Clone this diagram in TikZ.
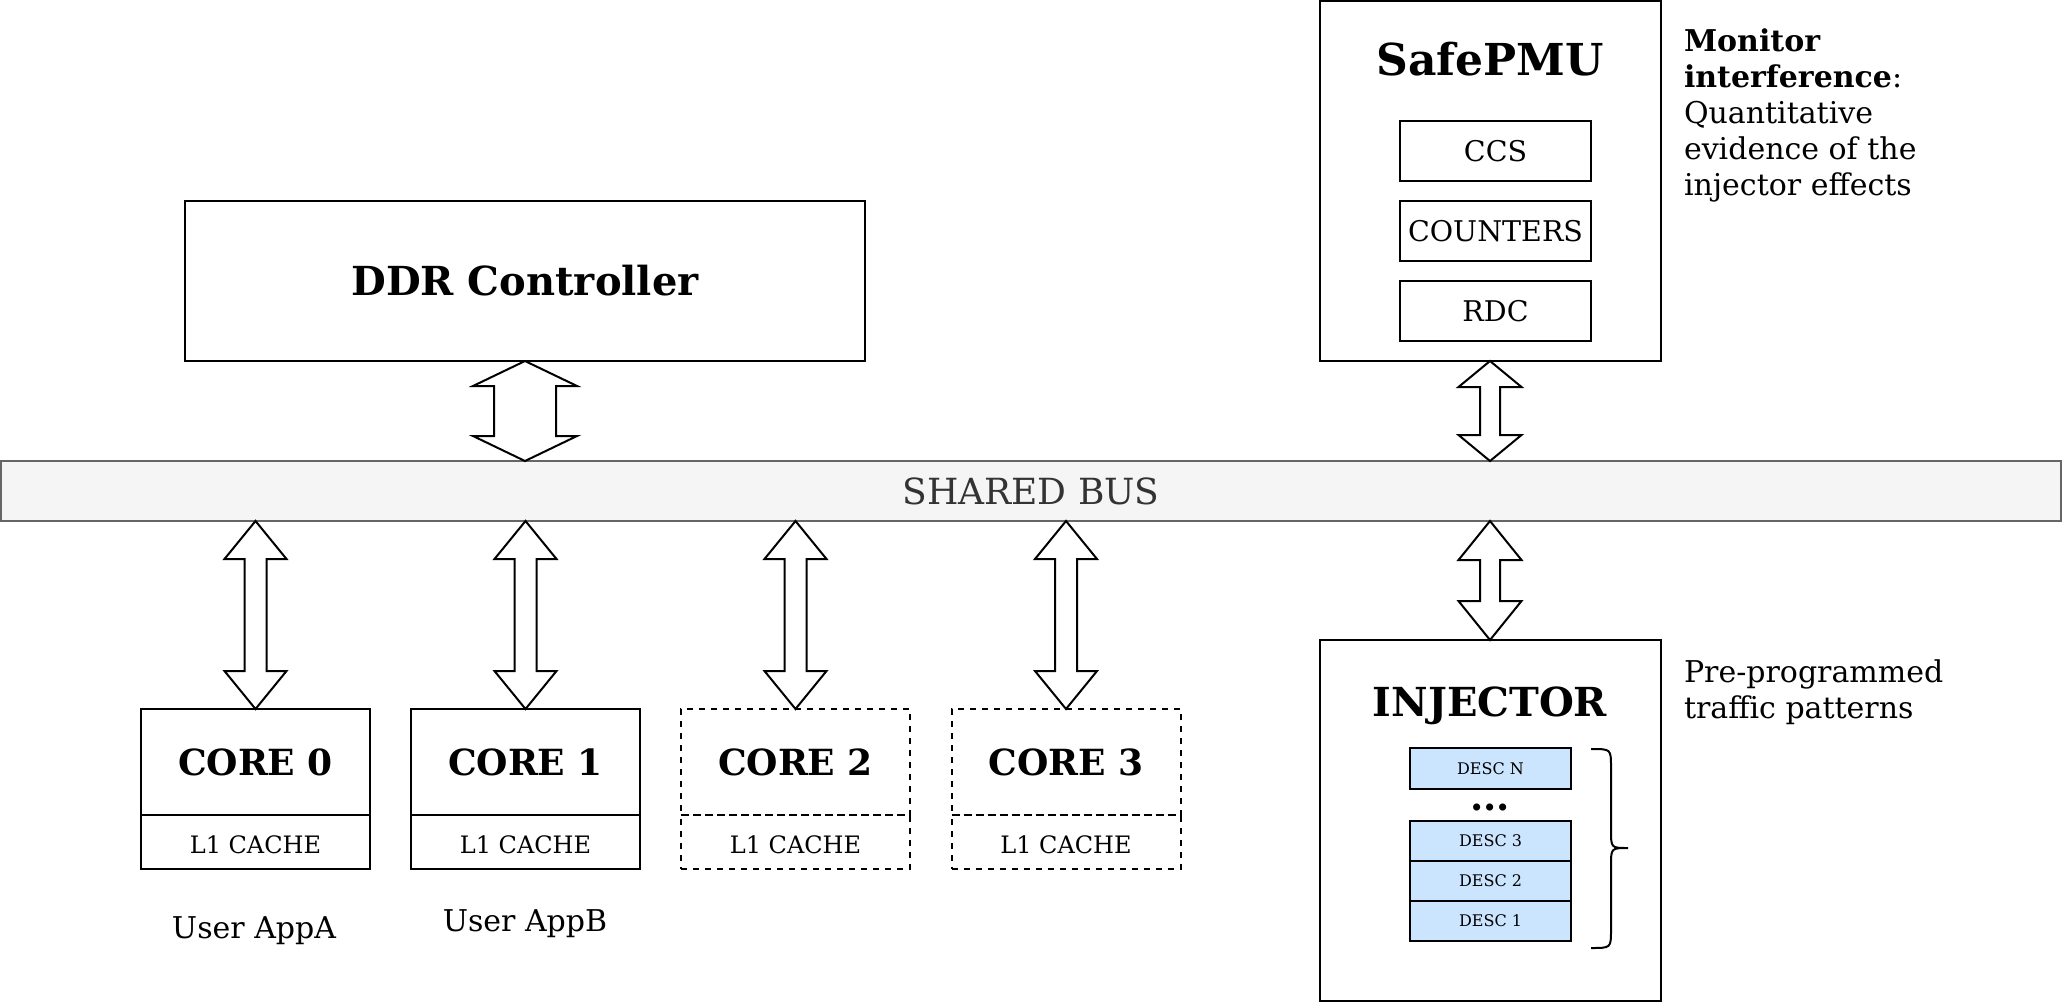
\documentclass[tikz,border=0pt]{standalone}
\usepackage{fontspec}
\setmainfont{DejaVu Serif}
\usetikzlibrary{calc}
\definecolor{busfill}{HTML}{F5F5F5}
\definecolor{busline}{HTML}{666666}
\definecolor{bustext}{HTML}{333333}
\definecolor{descfill}{HTML}{CCE5FF}
\newcommand\blockarrow[5]{%
  \draw[blockar] (#1) -- ($(#1)+(-#3,#5)$) -- ($(#1)+(-#4,#5)$) -- ($(#2)+(-#4,-#5)$) -- ($(#2)+(-#3,-#5)$) -- (#2) -- ($(#2)+(#3,-#5)$) -- ($(#2)+(#4,-#5)$) -- ($(#1)+(#4,#5)$) -- ($(#1)+(#3,#5)$) -- cycle;}
\begin{document}
\begin{tikzpicture}[x=0.5pt,y=-0.5pt,
  box/.style={draw, line width=1pt, inner sep=0pt, outer sep=0pt, align=center},
  dbox/.style={box, dash pattern=on 3pt off 3pt},
  blockar/.style={draw, fill=white, line width=1pt, line join=miter},
  bigbold/.style={font=\fontsize{20}{24}\selectfont\bfseries},
  titlebold/.style={font=\fontsize{20}{24}\selectfont\bfseries},
  coretxt/.style={font=\fontsize{18}{22}\selectfont\bfseries},
  cachetxt/.style={font=\fontsize{12}{14}\selectfont, text height=11pt, text depth=0pt},
  subtxt/.style={font=\fontsize{14.25}{17}\selectfont},
  desctxt/.style={font=\fontsize{8}{10}\selectfont},
  note/.style={font=\fontsize{15}{18}\selectfont, align=left, inner sep=0pt, outer sep=0pt},
  corebox/.style={box, minimum width=114.5pt, minimum height=53pt},
  cachebox/.style={box, minimum width=114.5pt, minimum height=27pt},
  subbox/.style={box, minimum width=95.5pt, minimum height=30pt},
  descbox/.style={box, fill=descfill, minimum width=80.5pt, minimum height=20pt}
]
\useasboundingbox (0,0) rectangle (2062,1002);

% DDR controller
\node[box, minimum width=340pt, minimum height=80pt, bigbold] (ddr) at (525,281) {DDR Controller};

% shared bus
\node[box, draw=busline, fill=busfill, text=bustext, minimum width=1030pt, minimum height=30pt,
      font=\fontsize{18}{22}\selectfont] (bus) at (1031,491) {SHARED BUS};

% SafePMU
\node[box, minimum width=170.5pt, minimum height=180pt] (pmu) at (1490.5,181) {};
\node[font=\fontsize{22}{26}\selectfont\bfseries] (pmut) at (1490,59) {SafePMU};
\node[subbox, subtxt] (ccs) at (1495.5,151) {CCS};
\node[subbox, subtxt] (cnt) at (1495.5,231) {COUNTERS};
\node[subbox, subtxt] (rdc) at (1495.5,311) {RDC};

% Injector
\node[box, minimum width=170.5pt, minimum height=180.5pt] (inj) at (1490.5,820.5) {};
\node[titlebold] (injt) at (1490,706) {INJECTOR};
\node[descbox, minimum height=20.5pt, desctxt] (descN) at (1490.5,768.5) {DESC N};
\node[font=\fontsize{19}{22}\selectfont\bfseries] (dots) at (1490,807) {...};
\node[descbox, desctxt] (desc3) at (1490.5,841) {DESC 3};
\node[descbox, desctxt] (desc2) at (1490.5,881) {DESC 2};
\node[descbox, desctxt] (desc1) at (1490.5,921) {DESC 1};
\draw[line width=1pt] (1591,749) .. controls (1611,749) .. (1611,767) -- (1611,830)
  .. controls (1611,848) .. (1628,848) .. controls (1611,848) .. (1611,866) -- (1611,930)
  .. controls (1611,948) .. (1591,948);

% cores
\node[corebox, coretxt] (core0) at (255.5,762) {CORE 0};
\node[cachebox, cachetxt] (c0) at (255.5,842) {L1 CACHE};
\node[corebox, coretxt] (core1) at (525.5,762) {CORE 1};
\node[cachebox, cachetxt] (c1) at (525.5,842) {L1 CACHE};
\node[corebox, dbox, coretxt] (core2) at (795.5,762) {CORE 2};
\node[cachebox, dbox, cachetxt] (c2) at (795.5,842) {L1 CACHE};
\node[corebox, dbox, coretxt] (core3) at (1066,762) {CORE 3};
\node[cachebox, dbox, cachetxt] (c3) at (1066,842) {L1 CACHE};

\node[font=\fontsize{15}{18}\selectfont] (appa) at (254,931) {User AppA};
\node[font=\fontsize{15}{18}\selectfont] (appb) at (525,924) {User AppB};

% notes
\node[note, anchor=north west] (mon) at (1684,29) {\textbf{Monitor}\\\textbf{interference}:\\Quantitative\\evidence of the\\injector effects};
\node[note, anchor=north west] (pre) at (1684,660) {Pre-programmed\\traffic patterns};

% arrows
\coordinate (ddrb) at (ddr.south);
\coordinate (busddr) at (ddr.south |- bus.north);
\blockarrow{ddrb}{busddr}{52}{31}{25}
\coordinate (pmub) at (1490,361);
\coordinate (buspmu) at (pmub |- bus.north);
\blockarrow{pmub}{buspmu}{31.5}{10}{26}
\coordinate (businj) at (1490,521);
\coordinate (injt0) at (businj |- inj.north);
\blockarrow{businj}{injt0}{31.5}{10}{39}
\foreach \i in {0,1,2,3}{
  \coordinate (bc\i) at (core\i.north |- bus.south);
  \coordinate (ct\i) at (core\i.north);
  \blockarrow{bc\i}{ct\i}{31}{11}{38}
}
\end{tikzpicture}
\end{document}
